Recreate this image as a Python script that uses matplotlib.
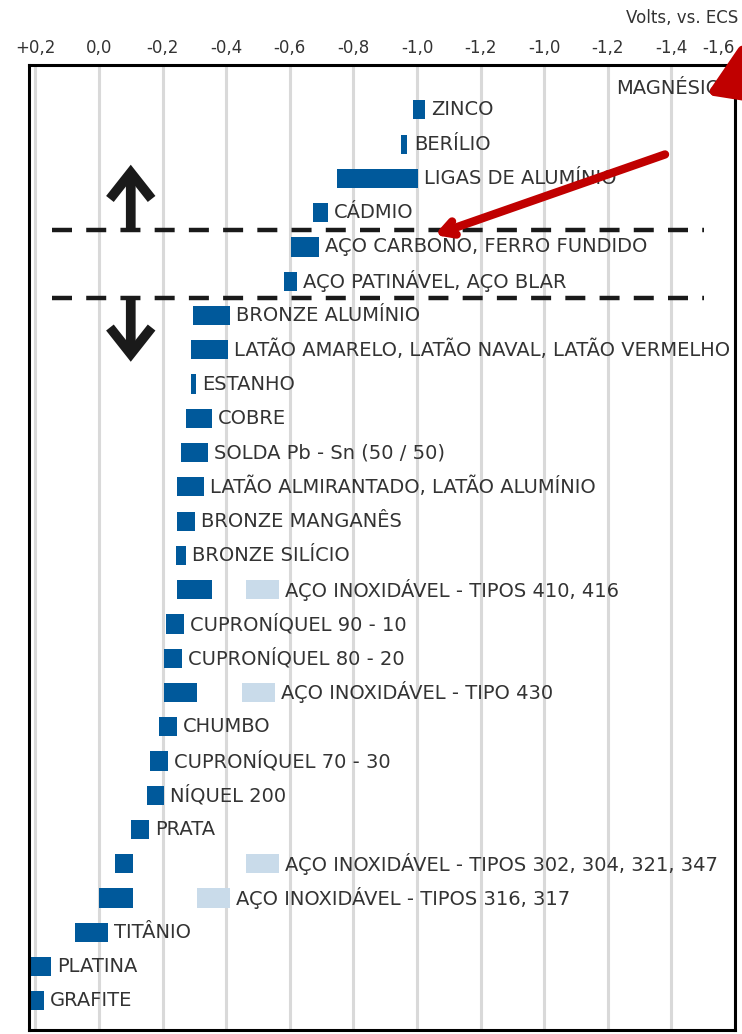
import matplotlib
matplotlib.use('Agg')
import matplotlib.pyplot as plt
from matplotlib import font_manager as fm

# Fonte estreita (parecida com a do original), se houver
nomes = {f.name for f in fm.fontManager.ttflist}
if 'Liberation Sans Narrow' in nomes:
    fonte = 'Liberation Sans Narrow'
else:
    fonte = 'DejaVu Sans'
plt.rcParams['font.family'] = [fonte, 'DejaVu Sans']

# Série galvânica - potenciais (V vs. ECS)
materiais = ['ZINCO', 'BERÍLIO', 'LIGAS DE ALUMÍNIO', 'CÁDMIO',
             'AÇO CARBONO, FERRO FUNDIDO', 'AÇO PATINÁVEL, AÇO BLAR',
             'BRONZE ALUMÍNIO', 'LATÃO AMARELO, LATÃO NAVAL, LATÃO VERMELHO',
             'ESTANHO', 'COBRE', 'SOLDA Pb - Sn (50 / 50)',
             'LATÃO ALMIRANTADO, LATÃO ALUMÍNIO', 'BRONZE MANGANÊS',
             'BRONZE SILÍCIO', 'AÇO INOXIDÁVEL - TIPOS 410, 416',
             'CUPRONÍQUEL 90 - 10', 'CUPRONÍQUEL 80 - 20',
             'AÇO INOXIDÁVEL - TIPO 430', 'CHUMBO', 'CUPRONÍQUEL 70 - 30',
             'NÍQUEL 200', 'PRATA', 'AÇO INOXIDÁVEL - TIPOS 302, 304, 321, 347',
             'AÇO INOXIDÁVEL - TIPOS 316, 317', 'TITÂNIO', 'PLATINA', 'GRAFITE']

pot_ini = [-0.986, -0.951, -0.747, -0.672, -0.603, -0.581, -0.295, -0.289,
           -0.289, -0.273, -0.258, -0.245, -0.245, -0.242, -0.245, -0.210,
           -0.204, -0.204, -0.188, -0.160, -0.151, -0.100, -0.050, 0.000,
           0.075, 0.22, 0.22]
pot_fim = [-1.024, -0.970, -1.002, -0.719, -0.691, -0.622, -0.411, -0.405,
           -0.305, -0.355, -0.342, -0.330, -0.301, -0.273, -0.355, -0.267,
           -0.261, -0.308, -0.245, -0.217, -0.204, -0.157, -0.107, -0.107,
           -0.028, 0.151, 0.173]

# Faixa ativa dos aços inoxidáveis (barras claras)
ativos = {14: (-0.462, -0.565), 17: (-0.449, -0.553),
          22: (-0.462, -0.565), 23: (-0.308, -0.411)}

magnesio = (-1.600, -1.627)

ticks = [0.2, 0.0, -0.2, -0.4, -0.6, -0.8, -1.0, -1.2, -1.4, -1.6, -1.8, -2.0]
tick_labels = ['+0,2', '0,0', '-0,2', '-0,4', '-0,6', '-0,8', '-1,0', '-1,2',
               '-1,0', '-1,2', '-1,4', '-1,6']

azul = '#00599b'
azul_claro = '#c9dbea'
texto = '#333333'

fig = plt.figure(figsize=(7.42, 10.34), dpi=100)
ax = fig.add_axes([29 / 742, 4 / 1034, 706 / 742, 965 / 1034])

linhas = list(range(len(materiais)))
for i in linhas:
    a, b = pot_ini[i], pot_fim[i]
    ax.barh(i, b - a, left=a, height=0.56, color=azul, zorder=2)
    fim = min(a, b)
    if i in ativos:
        c, d = ativos[i]
        ax.barh(i, d - c, left=c, height=0.56, color=azul_claro, zorder=2)
        fim = min(fim, c, d)
    ax.text(fim - 0.02, i, materiais[i], ha='left', va='center',
            fontsize=14, color=texto, zorder=3)

ax.text(magnesio[1], -0.62, 'MAGNÉSIO', ha='left', va='center',
        fontsize=14, color=texto, zorder=3)

ax.set_xlim(0.22, -2.0)
ax.set_ylim(26.85, -1.31)
ax.xaxis.tick_top()
ax.set_xticks(ticks)
ax.set_xticklabels(tick_labels, fontsize=12, color=texto)
ax.get_xticklabels()[-1].set_horizontalalignment('right')
ax.tick_params(axis='x', length=0, pad=6)
ax.set_yticks([])
ax.grid(axis='x', color='#d9d9d9', lw=2.2, zorder=0)
ax.set_axisbelow(True)
for s in ax.spines.values():
    s.set_linewidth(2.2)
    s.set_color('black')

fig.text(738 / 742, 1 - 18 / 1034, 'Volts, vs. ECS', ha='right', va='center',
         fontsize=12, color=texto)

# linhas tracejadas que delimitam a zona de aço carbono
for y in (3.5, 5.5):
    ax.plot([0.148, -1.903], [y, y], color='#1a1a1a', lw=3.2,
            dashes=(4.5, 3.2), zorder=4)

# setas pretas
preta = dict(arrowstyle='->,head_length=1.9,head_width=1.5',
             color='#1a1a1a', lw=7, shrinkA=0, shrinkB=0,
             capstyle='butt', joinstyle='miter')
ax.annotate('', xy=(-0.1, 1.6), xytext=(-0.1, 3.55), arrowprops=preta,
            zorder=5)
ax.annotate('', xy=(-0.1, 7.35), xytext=(-0.1, 5.45), arrowprops=preta,
            zorder=5)

# setas vermelhas
vermelho = '#c00000'
ax.annotate('', xy=(-1.055, 3.65), xytext=(-1.78, 1.3),
            arrowprops=dict(arrowstyle='->,head_length=0.9,head_width=0.5',
                            color=vermelho, lw=6, shrinkA=0, shrinkB=0),
            zorder=6)
ax.annotate('', xy=(-1.91, -0.44), xycoords='data',
            xytext=(1.2, 0.985), textcoords='figure fraction',
            arrowprops=dict(arrowstyle='-|>,head_length=3.0,head_width=1.9',
                            color=vermelho, lw=7, shrinkA=0, shrinkB=0),
            annotation_clip=False, zorder=6)

fig.savefig('out.png', dpi=100)
